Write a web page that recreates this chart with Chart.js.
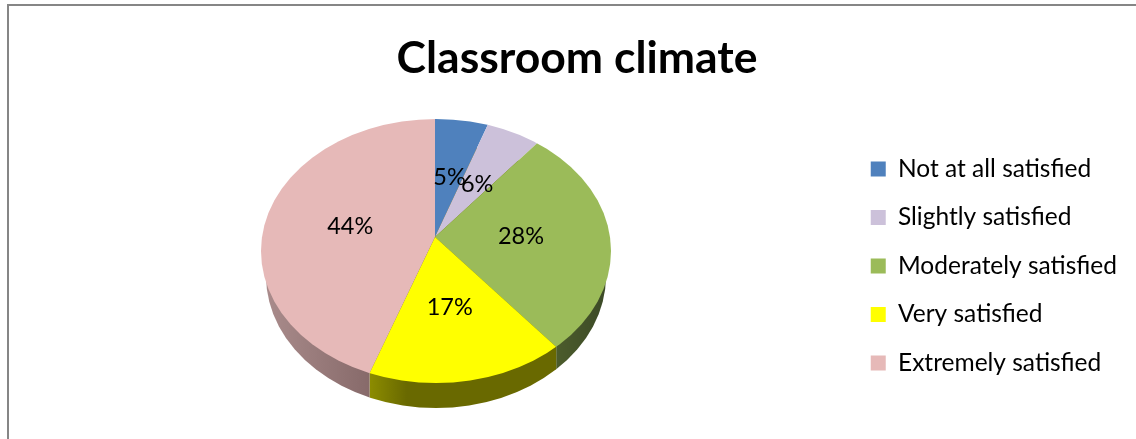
<!DOCTYPE html>
<html><head><meta charset="utf-8">
<style>
html,body{margin:0;padding:0;background:#fff;overflow:hidden;width:1136px;height:439px}
#frame{position:absolute;left:7px;top:4px;width:1140px;height:520px;border:2px solid #868686;box-sizing:content-box}
canvas{display:block}
</style>
<script src="https://cdn.jsdelivr.net/npm/chart.js@4"></script>
</head><body>
<div id="frame"><canvas id="c" width="1140" height="520"></canvas></div>
<script>
const categories = ['Not at all satisfied','Slightly satisfied','Moderately satisfied','Very satisfied','Extremely satisfied'];
const values = [5.4, 5.5, 28.1, 16.5, 44.49];
const colors = ['#4f81bd','#ccc1da','#9bbb59','#ffff00','#e6b9b8'];
const sideColors = [['#3b6090','#3b6090'],['#998fa3','#998fa3'],['#4c5c2c','#3a4826'],['#8c8c00','#696900'],['#ab8d8d','#876a6a']];
const chartTitle = 'Classroom climate';

// page offset of the canvas, and the projected pie's geometry (page pixels)
const OX = 9, OY = 6;
const APEX = {x:435-OX, y:237-OY};
const TOP = {x:436-OX, y:251-OY, rx:175, ry:132};
const BOTTOM = {x:436-OX, y:276-OY, rx:170, ry:132};
const TILT = 0.75;

function rimPoint(a){ // ray from the apex hits the top ellipse
  const dx=Math.cos(a), dy=Math.sin(a)*TILT;
  const ox=APEX.x-TOP.x, oy=APEX.y-TOP.y;
  const A=dx*dx/(TOP.rx*TOP.rx)+dy*dy/(TOP.ry*TOP.ry);
  const B=2*(ox*dx/(TOP.rx*TOP.rx)+oy*dy/(TOP.ry*TOP.ry));
  const C=ox*ox/(TOP.rx*TOP.rx)+oy*oy/(TOP.ry*TOP.ry)-1;
  const t=(-B+Math.sqrt(B*B-4*A*C))/(2*A);
  return {x:APEX.x+t*dx,y:APEX.y+t*dy};
}
const pie3d = {
  id:'pie3d',
  beforeDatasetsDraw(chart){
    const ctx=chart.ctx, arcs=chart.getDatasetMeta(0).data;
    ctx.save();
    ctx.beginPath();
    ctx.ellipse(BOTTOM.x,BOTTOM.y,BOTTOM.rx,BOTTOM.ry,0,0,Math.PI*2);
    ctx.clip();
    arcs.forEach((arc,i)=>{
      let minX=Infinity,maxX=-Infinity;
      for(let k=0;k<=200;k++){
        const a=arc.startAngle+(arc.endAngle-arc.startAngle)*k/200;
        const p=rimPoint(a);
        if(p.y>=TOP.y){minX=Math.min(minX,p.x);maxX=Math.max(maxX,p.x);}
      }
      if(minX===Infinity) return;
      const g=ctx.createLinearGradient(minX,0,maxX,0);
      g.addColorStop(0,sideColors[i][0]);
      g.addColorStop(i===3?0.2:1,sideColors[i][1]);
      g.addColorStop(1,sideColors[i][1]);
      ctx.fillStyle=g;
      ctx.fillRect(minX,0,maxX-minX+(i===2?10:0),chart.height);
    });
    ctx.restore();
    const a0=arcs[0];
    const s=TOP.rx*1.6/a0.outerRadius;
    ctx.save();
    ctx.beginPath();
    ctx.ellipse(TOP.x,TOP.y,TOP.rx,TOP.ry,0,0,Math.PI*2);
    ctx.clip();
    ctx.translate(APEX.x,APEX.y);
    ctx.scale(s,s*TILT);
    ctx.translate(-a0.x,-a0.y);
  },
  afterDatasetsDraw(chart){
    const ctx=chart.ctx, arcs=chart.getDatasetMeta(0).data;
    ctx.restore();
    ctx.save();
    ctx.fillStyle='#000';
    ctx.font='23.5px Lato, Carlito, sans-serif';
    ctx.textAlign='center';ctx.textBaseline='middle';
    arcs.forEach((arc,i)=>{
      const m=(arc.startAngle+arc.endAngle)/2;
      const sn=Math.sin(m);
      const x=APEX.x+86*Math.cos(m);
      const y=APEX.y+sn*(sn<0?60:71);
      ctx.fillText(Math.round(values[i])+'%',x,y);
    });
    ctx.restore();
  }
};
new Chart(document.getElementById('c'),{
  type:'pie',
  data:{labels:categories,datasets:[{data:values,backgroundColor:colors,borderWidth:0}]},
  plugins:[pie3d],
  options:{
    responsive:false,animation:false,
    layout:{padding:{top:22,right:22,bottom:22,left:18}},
    plugins:{
      tooltip:{enabled:false},
      title:{display:true,text:chartTitle,color:'#000',font:{family:'Lato, Carlito, sans-serif',size:44.5,weight:'bold'},padding:{top:4,bottom:10}},
      legend:{position:'right',align:'center',labels:{boxWidth:15,boxHeight:15,padding:24,color:'#000',font:{family:'Lato, Carlito, sans-serif',size:24.5}}}
    }
  }
});
</script>
</body></html>
